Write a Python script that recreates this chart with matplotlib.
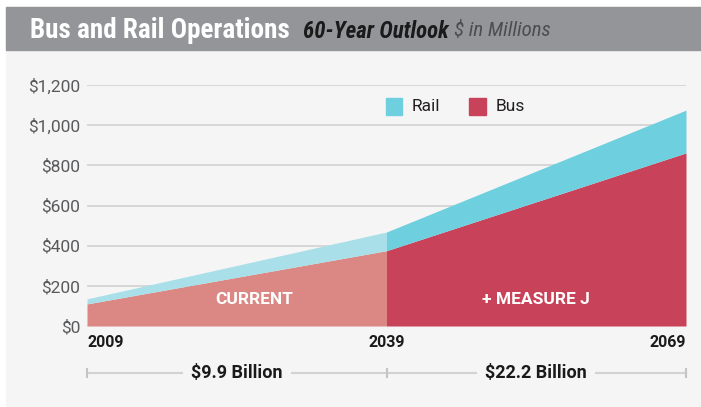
import matplotlib
matplotlib.use('Agg')
import matplotlib.pyplot as plt
from matplotlib.patches import Rectangle
import numpy as np

# Data ($ in millions)
years = [2009, 2039, 2069]
bus = [110, 375, 862]
rail_total = [135, 468, 1075]
yticks = [0, 200, 400, 600, 800, 1000, 1200]
ytick_labels = ['$0', '$200', '$400', '$600', '$800', '$1,000', '$1,200']
periods = ['$9.9 Billion', '$22.2 Billion']
period_labels = ['CURRENT', '+ MEASURE J']

COND = ['Roboto Condensed', 'DejaVu Sans']
REG = ['Roboto', 'DejaVu Sans']
plt.rcParams['font.family'] = REG

W, H = 701, 407
fig = plt.figure(figsize=(W / 100, H / 100), dpi=100, facecolor='white')

def fx(px):
    return px / W

def fy(py):
    return 1 - py / H

# panel + header band
fig.patches.append(Rectangle((fx(6), fy(406)), fx(701) - fx(6), fy(7) - fy(406),
                             transform=fig.transFigure, color='#f5f5f5', zorder=-10))
fig.patches.append(Rectangle((fx(6), fy(50)), fx(701) - fx(6), fy(7) - fy(50),
                             transform=fig.transFigure, color='#939598', zorder=-10))

t1 = fig.text(fx(30), fy(30), 'Bus and Rail Operations', color='white', fontsize=19.5,
              fontweight='bold', va='center', ha='left', family=COND)
fig.canvas.draw()
bb = t1.get_window_extent()
t2 = fig.text(bb.x1 / W + fx(13), fy(31), '60-Year Outlook', color='#1a1a1a', fontsize=16.5,
              fontweight='bold', style='italic', va='center', ha='left', family=COND)
fig.canvas.draw()
bb = t2.get_window_extent()
fig.text(bb.x1 / W + fx(6), fy(31), '$ in Millions', color='#4d4d4f', fontsize=15,
         style='italic', va='center', ha='left', family=COND)

# plot axes
ax = fig.add_axes([fx(87), fy(326), fx(686) - fx(87), fy(85) - fy(326)])
ax.set_facecolor('none')
ax.set_xlim(years[0], years[-1])
ax.set_ylim(0, 1200)

# light (current) segment and dark (Measure J) segment
light = {'bus': '#db8884', 'rail': '#a8dfe8'}
dark = {'bus': '#c8435a', 'rail': '#6ecfdf'}
for i, cols in [(0, light), (1, dark)]:
    xs = years[i:i + 2]
    ax.fill_between(xs, 0, bus[i:i + 2], color=cols['bus'], lw=0, zorder=2)
    ax.fill_between(xs, bus[i:i + 2], rail_total[i:i + 2], color=cols['rail'], lw=0, zorder=2)

for v in yticks:
    ax.axhline(v, color='#d2d2d2', lw=1.2, zorder=1)

ax.set_yticks(yticks)
ax.set_yticklabels(ytick_labels, color='#58595b', fontsize=12.5)
ax.tick_params(axis='y', length=0, pad=5)
ax.set_xticks([])
for s in ax.spines.values():
    s.set_visible(False)

# year labels
for yr, ha in zip(years, ['left', 'center', 'right']):
    ax.text(yr, -80, str(yr), ha=ha, va='center', fontsize=11.5, fontweight='bold',
            color='#1a1a1a', clip_on=False)

# in-area labels
label_x = [2025.7, 2054]
for m, lab in zip(label_x, period_labels):
    ax.text(m, 130, lab, ha='center', va='center', color='white', fontsize=12.5,
            fontweight='bold')

# period bracket
mids = [(years[0] + years[1]) / 2, (years[1] + years[2]) / 2]
yb = -235
ax.plot([years[0], years[-1]], [yb, yb], color='#d2d2d2', lw=1.5, clip_on=False, zorder=1)
for yr in years:
    ax.plot([yr, yr], [yb - 20, yb + 20], color='#c4c4c4', lw=1.5, clip_on=False)
for m, lab in zip(mids, periods):
    ax.text(m, yb, lab, ha='center', va='center', fontsize=13, fontweight='bold',
            color='#1a1a1a', clip_on=False,
            bbox=dict(facecolor='#f5f5f5', edgecolor='none', pad=6))

# legend
leg_y = 1095
for xs, lab, c in [(2038.9, 'Rail', dark['rail']), (2047.3, 'Bus', dark['bus'])]:
    ax.add_patch(Rectangle((xs, leg_y - 42), 1.7, 84, color=c, clip_on=False, zorder=3))
    ax.text(xs + 2.65, leg_y, lab, ha='left', va='center', fontsize=12.5, color='#231f20')

fig.savefig('out.png', dpi=100, facecolor='white')
